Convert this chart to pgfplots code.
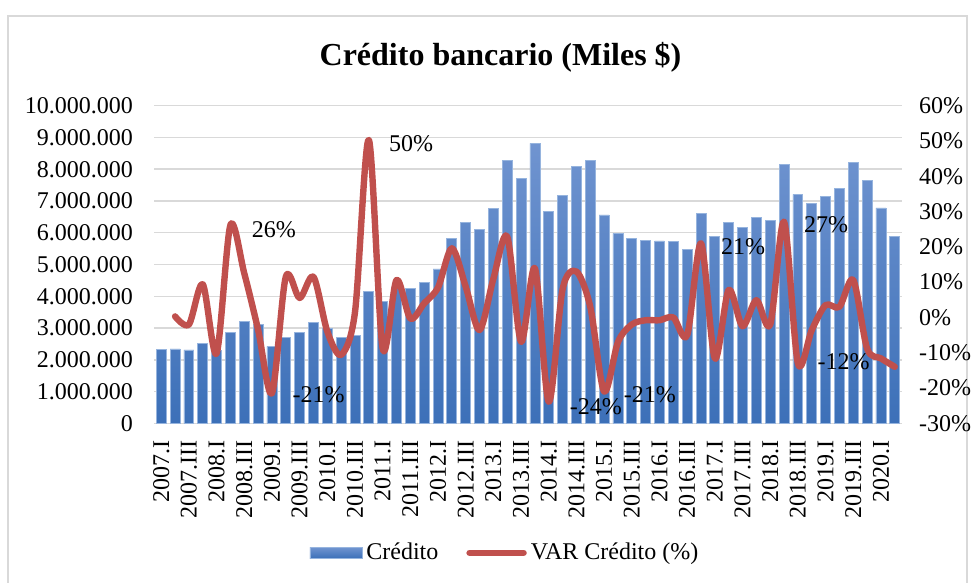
\documentclass[12pt,border=0pt]{standalone}
\usepackage{fontspec}
\setmainfont{Liberation Serif}
\usepackage{pgfplots}
\pgfplotsset{compat=1.18}
\usepackage{pgfplotstable}
\definecolor{barTop}{RGB}{112,148,208}
\definecolor{barBot}{RGB}{60,112,184}
\definecolor{barEdge}{RGB}{150,180,222}
\definecolor{lineRed}{RGB}{192,80,77}
\definecolor{gridGray}{RGB}{217,217,217}
\pgfplotsset{
  barlegend/.style={legend image code/.code={\draw[##1] (0pt,-2.75pt) rectangle (26pt,2.75pt);}},
  linelegend/.style={legend image code/.code={\draw[##1] (0pt,0pt) -- (27pt,0pt);}},
}

\pgfplotstableread{
x credito
0 2330000
1 2340000
2 2310000
3 2520000
4 2290000
5 2850000
6 3220000
7 3100000
8 2420000
9 2690000
10 2850000
11 3180000
12 3000000
13 2710000
14 2770000
15 4160000
16 3840000
17 4270000
18 4250000
19 4430000
20 4860000
21 5810000
22 6320000
23 6090000
24 6760000
25 8280000
26 7720000
27 8810000
28 6680000
29 7160000
30 8090000
31 8290000
32 6560000
33 5980000
34 5830000
35 5770000
36 5740000
37 5730000
38 5480000
39 6620000
40 5880000
41 6330000
42 6180000
43 6480000
44 6400000
45 8150000
46 7210000
47 6930000
48 7150000
49 7400000
50 8200000
51 7640000
52 6780000
53 5870000
}\credito

\pgfplotstableread{
x var
1 0.3
2 -2.0
3 9.4
4 -10.2
5 26.2
6 12.5
7 -3.5
8 -21.5
9 11.5
10 5.5
11 11.5
12 -4.0
13 -10.6
14 1.5
15 50.3
16 -8.8
17 10.6
18 -0.3
19 4.0
20 8.5
21 19.6
22 8.7
23 -3.6
24 11.0
25 22.9
26 -6.9
27 13.9
28 -23.9
29 8.0
30 13.0
31 3.0
32 -21.0
33 -7.0
34 -2.0
35 -0.8
36 -0.8
37 0.0
38 -5.0
39 21.0
40 -11.6
41 7.8
42 -2.5
43 4.9
44 -2.0
45 27.1
46 -13.0
47 -3.6
48 3.5
49 3.0
50 10.6
51 -8.8
52 -11.6
53 -14.0
}\variacion

\begin{document}
\begin{tikzpicture}[x=1pt,y=1pt]
\useasboundingbox (0,0) rectangle (487.5,291.5);
\draw[gridGray, line width=0.75pt] (4,0) -- (4,283.5) -- (483.5,283.5) -- (483.5,0);
\node[font=\fontsize{16}{19}\selectfont\bfseries] at (250.25,263) {Crédito bancario (Miles \$)};
\begin{axis}[
  at={(77.15pt,79.85pt)}, anchor=south west,
  scale only axis, width=373.7pt, height=158.8pt,
  xmin=-0.5, xmax=53.5, ymin=0, ymax=10000000,
  axis line style={draw=none},
  ytick={0,1000000,2000000,3000000,4000000,5000000,6000000,7000000,8000000,9000000,10000000},
  yticklabels={0,1.000.000,2.000.000,3.000.000,4.000.000,5.000.000,6.000.000,7.000.000,8.000.000,9.000.000,10.000.000},
  scaled y ticks=false,
  ymajorgrids, grid style={gridGray, line width=0.75pt},
  tick style={draw=none},
  xtick={0,2,...,52},
  xticklabels={2007.I,2007.III,2008.I,2008.III,2009.I,2009.III,2010.I,2010.III,2011.I,2011.III,2012.I,2012.III,2013.I,2013.III,2014.I,2014.III,2015.I,2015.III,2016.I,2016.III,2017.I,2017.III,2018.I,2018.III,2019.I,2019.III,2020.I},
  xticklabel style={rotate=90, anchor=east, inner sep=0pt},
  xticklabel shift=8.3pt,
  yticklabel style={anchor=east, inner sep=0pt},
  yticklabel shift=10.5pt,
  /pgf/number format/assume math mode=true,
]
\addplot[ybar, bar width=0.72, bar shift=0pt, draw=barEdge, line width=0.4pt, top color=barTop, bottom color=barBot] table[x=x,y=credito]{\credito};
\end{axis}
\begin{axis}[
  at={(77.15pt,79.85pt)}, anchor=south west,
  scale only axis, width=373.7pt, height=158.8pt,
  xmin=-0.5, xmax=53.5, ymin=-30, ymax=60,
  axis x line=none, axis y line*=right, axis line style={draw=none},
  ytick={-30,-20,-10,0,10,20,30,40,50,60},
  yticklabels={-30\%,-20\%,-10\%,0\%,10\%,20\%,30\%,40\%,50\%,60\%},
  yticklabel style={anchor=west, inner sep=0pt},
  yticklabel shift=8.5pt,
  tick style={draw=none},
  clip=false,
  /pgf/number format/assume math mode=true,
  legend columns=2,
  legend style={at={(0.4705,-0.408)}, anchor=center, draw=none, fill=none,
    /tikz/every even column/.append style={column sep=12pt},
    nodes={inner sep=2pt}},
]
\addlegendimage{barlegend, draw=barEdge, line width=0.4pt, top color=barTop, bottom color=barBot}
\addlegendentry{Crédito}
\addplot[linelegend, lineRed, line width=3.2pt, smooth, tension=0.5, line join=round, line cap=round] table[x=x,y=var]{\variacion};
\addlegendentry{VAR Crédito (\%)}
\node at (axis cs:8.13,24.8) {26\%};
\node at (axis cs:11.38,-22.0) {-21\%};
\node at (axis cs:18.05,49.3) {50\%};
\node at (axis cs:31.4,-25.3) {-24\%};
\node at (axis cs:35.3,-22.0) {-21\%};
\node at (axis cs:42.05,20.0) {21\%};
\node at (axis cs:48.04,26.2) {27\%};
\node at (axis cs:49.3,-12.5) {-12\%};
\end{axis}
\end{tikzpicture}
\end{document}
